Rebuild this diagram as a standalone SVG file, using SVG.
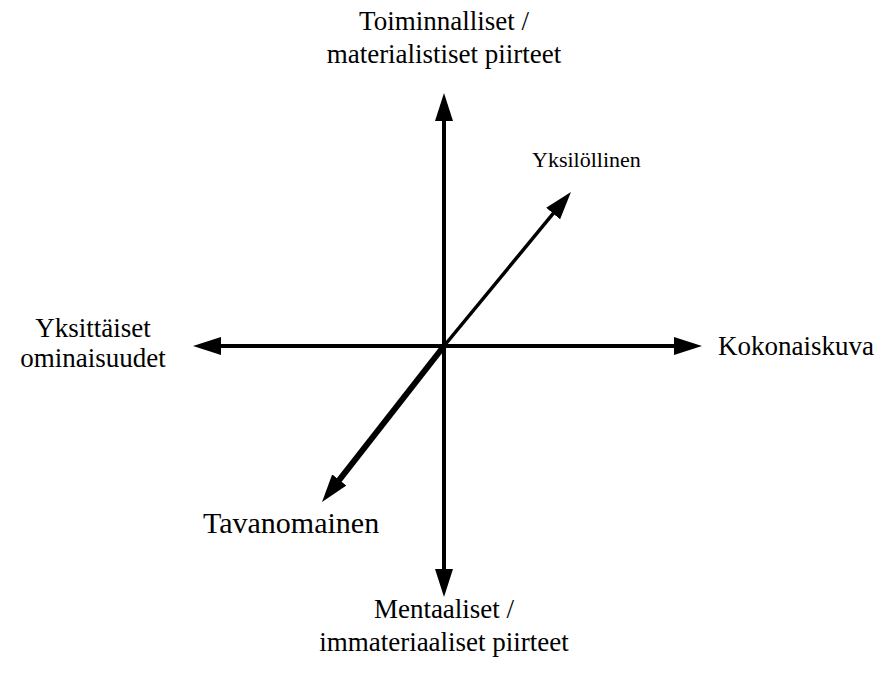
<svg xmlns="http://www.w3.org/2000/svg" width="886" height="686" viewBox="0 0 886 686">
<style>
.t{font-family:"Liberation Serif","Times New Roman",serif;fill:#000}
.ax{stroke:#000;fill:none}
</style>
<defs>
<marker id="ah" viewBox="0 0 28 18" markerWidth="28" markerHeight="18" markerUnits="userSpaceOnUse" refX="18" refY="9" orient="auto-start-reverse">
<path d="M0,0 L28,9 L0,18 Z" fill="#000"/>
</marker>
</defs>
<rect width="886" height="686" fill="#fff"/>
<g id="connectors">
<line class="ax" x1="444" y1="587" x2="444" y2="103" stroke-width="4" marker-start="url(#ah)" marker-end="url(#ah)"/>
<line class="ax" x1="692" y1="346" x2="203" y2="346" stroke-width="4" marker-start="url(#ah)" marker-end="url(#ah)"/>
<line class="ax" x1="444" y1="346" x2="564.6" y2="199.7" stroke-width="3.5" marker-end="url(#ah)"/>
<line class="ax" x1="444" y1="346" x2="328.2" y2="494.1" stroke-width="6" marker-end="url(#ah)"/>
</g>
<g id="top">
<text class="t" x="444" y="30" font-size="27" text-anchor="middle">Toiminnalliset /</text>
<text class="t" x="444" y="63" font-size="27" text-anchor="middle">materialistiset piirteet</text>
</g>
<g id="bottom">
<text class="t" x="444" y="618" font-size="27" text-anchor="middle">Mentaaliset /</text>
<text class="t" x="444" y="651" font-size="27" text-anchor="middle">immateriaaliset piirteet</text>
</g>
<g id="left">
<text class="t" x="93" y="337" font-size="27" text-anchor="middle">Yksittäiset</text>
<text class="t" x="93" y="367" font-size="27" text-anchor="middle">ominaisuudet</text>
</g>
<g id="right">
<text class="t" x="718" y="355" font-size="27">Kokonaiskuva</text>
</g>
<g id="upper-right">
<text class="t" x="532" y="167" font-size="22">Yksilöllinen</text>
</g>
<g id="lower-left">
<text class="t" x="203" y="533" font-size="30">Tavanomainen</text>
</g>
</svg>
